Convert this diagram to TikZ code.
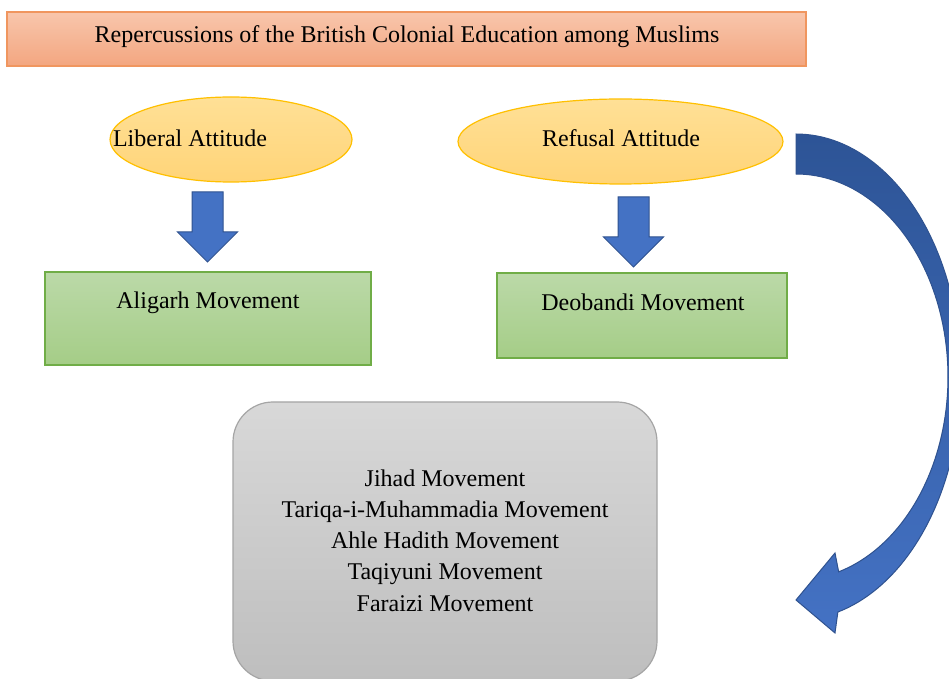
\documentclass[tikz,border=0pt]{standalone}
\usepackage{fontspec}
\setmainfont{Liberation Serif}
\usetikzlibrary{shapes.geometric}
\definecolor{salmonT}{RGB}{248,198,172}
\definecolor{salmonB}{RGB}{243,166,128}
\definecolor{salmonD}{RGB}{240,150,95}
\definecolor{yelT}{RGB}{255,224,150}
\definecolor{yelB}{RGB}{255,212,120}
\definecolor{yelD}{RGB}{255,192,0}
\definecolor{grnT}{RGB}{187,217,168}
\definecolor{grnB}{RGB}{165,205,135}
\definecolor{grnD}{RGB}{112,173,71}
\definecolor{gryT}{RGB}{216,216,216}
\definecolor{gryB}{RGB}{190,190,190}
\definecolor{gryD}{RGB}{165,165,165}
\definecolor{bluF}{RGB}{68,114,196}
\definecolor{bluD}{RGB}{47,82,143}
\definecolor{bluT}{RGB}{45,84,150}
\tikzset{
  txt/.style={font=\fontsize{12}{15.6}\selectfont, text=black, inner sep=0pt, align=center},
  titlebox/.style={rectangle, draw=salmonD, line width=0.6pt, top color=salmonT, bottom color=salmonB, minimum width=399.5pt, minimum height=27pt, inner sep=0pt},
  ovalbox/.style={ellipse, draw=yelD, line width=0.6pt, top color=yelT, bottom color=yelB, inner sep=0pt},
  greenbox/.style={rectangle, draw=grnD, line width=0.6pt, top color=grnT, bottom color=grnB, inner sep=0pt},
  graybox/.style={rectangle, rounded corners=20pt, draw=gryD, line width=0.6pt, top color=gryT, bottom color=gryB, inner sep=0pt},
  blockfill/.style={fill=bluF, draw=bluD, line width=0.5pt},
  bigarrow/.style={top color=bluT, bottom color=bluF, draw=bluD, line width=0.5pt},
  dnarrow/.pic={\path[blockfill] (-15.5,0) -- (15.5,0) -- (15.5,40) -- (30,40) -- (0,70) -- (-30,40) -- (-15.5,40) -- cycle;}
}
\begin{document}
\begin{tikzpicture}[x=0.5pt,y=-0.5pt]
\clip (0,0) rectangle (949,679);
\fill[white] (0,0) rectangle (949,679);

% title
\node[titlebox] (title) at (406.5,39) {};
\node[txt] (titletxt) at (407,37) {Repercussions of the British Colonial Education among Muslims};

% attitudes
\node[ovalbox, minimum width=121pt, minimum height=42.5pt] (lib) at (231,139.5) {};
\node[txt] (libtxt) at (190,138) {Liberal Attitude};
\node[ovalbox, minimum width=162.5pt, minimum height=42.5pt] (ref) at (620.5,141.5) {};
\node[txt] (reftxt) at (621,138) {Refusal Attitude};

% down arrows
\pic at (207.5,192) {dnarrow};
\pic at (633.5,197) {dnarrow};

% movements
\node[greenbox, minimum width=163pt, minimum height=46.5pt] (ali) at (208,318.5) {};
\node[txt] (alitxt) at (208,303) {Aligarh Movement};
\node[greenbox, minimum width=145pt, minimum height=42.5pt] (deo) at (642,315.5) {};
\node[txt] (deotxt) at (643,302) {Deobandi Movement};

% gray box
\node[graybox, minimum width=212pt, minimum height=139.5pt] (mov) at (445,541.5) {};
\node[txt] (movtxt) at (445,540.5) {Jihad Movement\\Tariqa-i-Muhammadia Movement\\Ahle Hadith Movement\\Taqiyuni Movement\\Faraizi Movement};

% curved arrow
\path[bigarrow] plot[domain=90:-75.3,samples=90] ({796+165*cos(\x)},{377-243*sin(\x)})
  -- (835,633) -- (796,600) -- (835,553)
  -- plot[domain=-73.7:90,samples=90] ({796+152*cos(\x)},{377-203*sin(\x)}) -- cycle;
\end{tikzpicture}
\end{document}
